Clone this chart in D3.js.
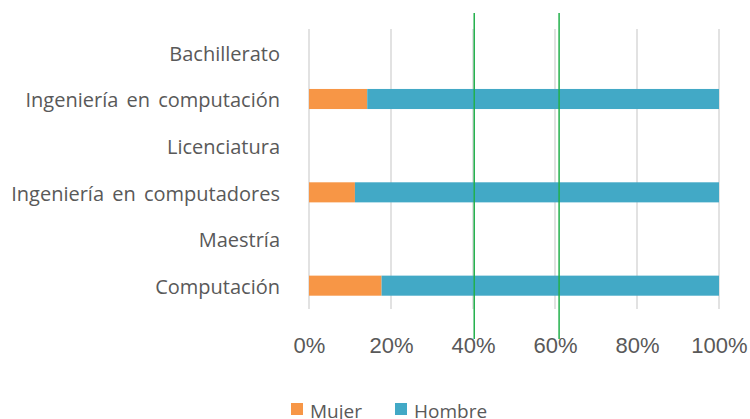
<!DOCTYPE html>
<html><head><meta charset="utf-8">
<script src="https://cdn.jsdelivr.net/npm/d3@7"></script>
<style>body{margin:0;background:#fff}svg{display:block}</style>
</head><body>
<svg id="c" width="750" height="419"></svg>
<script>
const categories = ["Bachillerato","Ingeniería en computación","Licenciatura","Ingeniería en computadores","Maestría","Computación"];
const mujer  = [null, 14.2, null, 11.2, null, 17.7];
const hombre = [null, 85.8, null, 88.8, null, 82.3];
const seriesNames = ["Mujer","Hombre"];
const colors = ["#F79646","#42A9C6"];
const tickValues = [0,20,40,60,80,100];
const markerLines = [40.3, 61];

const svg = d3.select("#c");
const x = d3.scaleLinear().domain([0,100]).range([309,719]);
const y = d3.scaleBand().domain(categories).range([29,309]).paddingInner(0.57).paddingOuter(0.285);

// gridlines
svg.append("g").selectAll("line").data(tickValues).join("line")
  .attr("x1",d=>x(d)).attr("x2",d=>x(d)).attr("y1",29).attr("y2",309)
  .attr("stroke","#D9D9D9").attr("stroke-width",1.5);

// bars
const rows = categories.map((c,i)=>({c, m:mujer[i], h:hombre[i]})).filter(r=>r.m!=null);
const g = svg.append("g");
g.selectAll("rect.m").data(rows).join("rect")
  .attr("x",x(0)).attr("y",d=>y(d.c)).attr("height",y.bandwidth())
  .attr("width",d=>x(d.m)-x(0)).attr("fill",colors[0]);
g.selectAll("rect.h").data(rows).join("rect")
  .attr("x",d=>x(d.m)).attr("y",d=>y(d.c)).attr("height",y.bandwidth())
  .attr("width",d=>x(d.m+d.h)-x(d.m)).attr("fill",colors[1]);

// category labels
const yAxis = d3.axisLeft(y).tickSize(0).tickPadding(0);
const ya = svg.append("g").attr("transform","translate(280,0)").call(yAxis);
ya.select(".domain").remove();
ya.selectAll("text").attr("font-family","'Open Sans', sans-serif").attr("font-size",20)
  .attr("fill","#595959").attr("dy","0.42em").attr("word-spacing","3px");

// x axis labels
const xAxis = d3.axisBottom(x).tickValues(tickValues).tickFormat(d=>d+"%").tickSize(0).tickPadding(0);
const xa = svg.append("g").attr("transform","translate(0,337)").call(xAxis);
xa.select(".domain").remove();
xa.selectAll("text").attr("font-family","'Liberation Sans', Arial, sans-serif").attr("font-size",22).attr("fill","#595959").attr("dy","0.71em");

// green marker lines
svg.append("g").selectAll("line").data(markerLines).join("line")
  .attr("x1",d=>x(d)).attr("x2",d=>x(d)).attr("y1",13).attr("y2",339)
  .attr("stroke","#22B04B").attr("stroke-width",1.5);

// legend
const legX = [291, 395];
const lg = svg.append("g").selectAll("g").data(seriesNames).join("g")
  .attr("transform",(d,i)=>`translate(${legX[i]},0)`);
lg.append("rect").attr("x",0).attr("y",403).attr("width",12).attr("height",12).attr("fill",(d,i)=>colors[i]);
lg.append("text").attr("x",19).attr("y",418).text(d=>d)
  .attr("font-family","'Open Sans', sans-serif").attr("font-size",19).attr("fill","#595959");
</script>
</body></html>
